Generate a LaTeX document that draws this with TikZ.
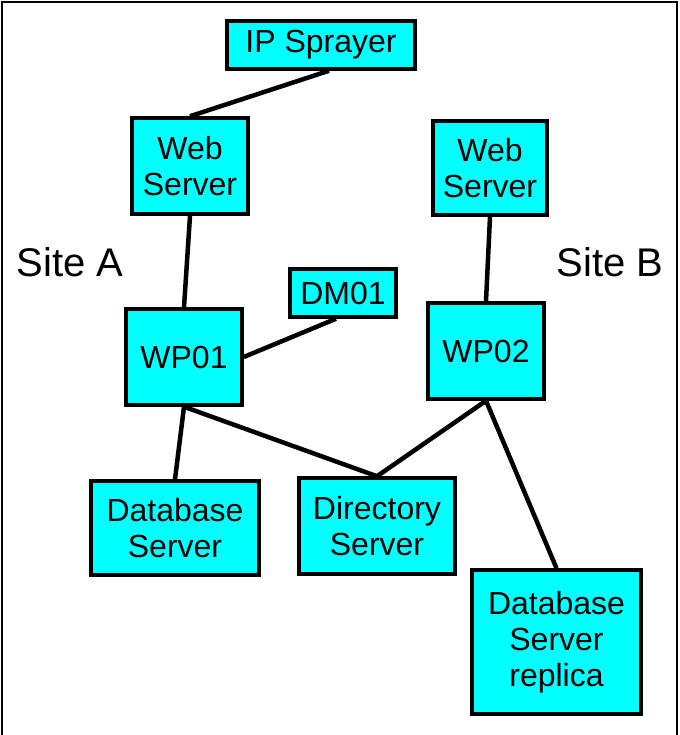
\documentclass[tikz,border=0pt]{standalone}
\usepackage{fontspec}
\setmainfont{Liberation Sans}
\usetikzlibrary{calc}
\definecolor{boxcyan}{HTML}{00FFFF}
\tikzset{
  box/.style={draw=black, line width=3.5pt, fill=boxcyan, align=center, inner sep=0pt,
    font=\fontsize{32}{36}\selectfont},
  link/.style={line width=4.5pt},
  sitelabel/.style={font=\fontsize{40}{44}\selectfont, inner sep=0pt}
}
\begin{document}
\begin{tikzpicture}[x=1pt,y=-1pt]
\useasboundingbox (0,0) rectangle (679,735);
\draw[line width=2pt] (2,735) -- (2,2) -- (677,2) -- (677,735);
\node[box, minimum width=188pt, minimum height=48pt] (ips) at (321,45) {IP Sprayer};
\node[box, minimum width=116pt, minimum height=96pt] (wsa) at (190,166) {Web\\Server};
\node[box, minimum width=114pt, minimum height=94pt] (wsb) at (490,168) {Web\\Server};
\node[box, minimum width=106pt, minimum height=48pt] (dm) at (343,293) {DM01};
\node[box, minimum width=116pt, minimum height=96pt] (wp1) at (184,357) {WP01};
\node[box, minimum width=116pt, minimum height=96pt] (wp2) at (486,351) {WP02};
\node[box, minimum width=168pt, minimum height=94pt] (db) at (175,528) {Database\\Server};
\node[box, minimum width=156pt, minimum height=96pt] (dir) at (377,526) {Directory\\Server};
\node[box, minimum width=169pt, minimum height=144pt] (rep) at (556.5,642) {Database\\Server\\replica};
\node[sitelabel] (sa) at (70,262) {Site A};
\node[sitelabel] (sb) at (610,262) {Site B};
\draw[link] ($(ips.south)+(8,0)$) -- (wsa.north);
\draw[link] (wsa.south) -- (wp1.north);
\draw[link] (wp1.east) -- ($(dm.south)+(-7,0)$);
\draw[link] (wsb.south) -- (wp2.north);
\draw[link] (wp1.south) -- (db.north);
\draw[link] (wp1.south) -- (dir.north);
\draw[link] (wp2.south) -- (dir.north);
\draw[link] (wp2.south) -- (rep.north);
\end{tikzpicture}
\end{document}
